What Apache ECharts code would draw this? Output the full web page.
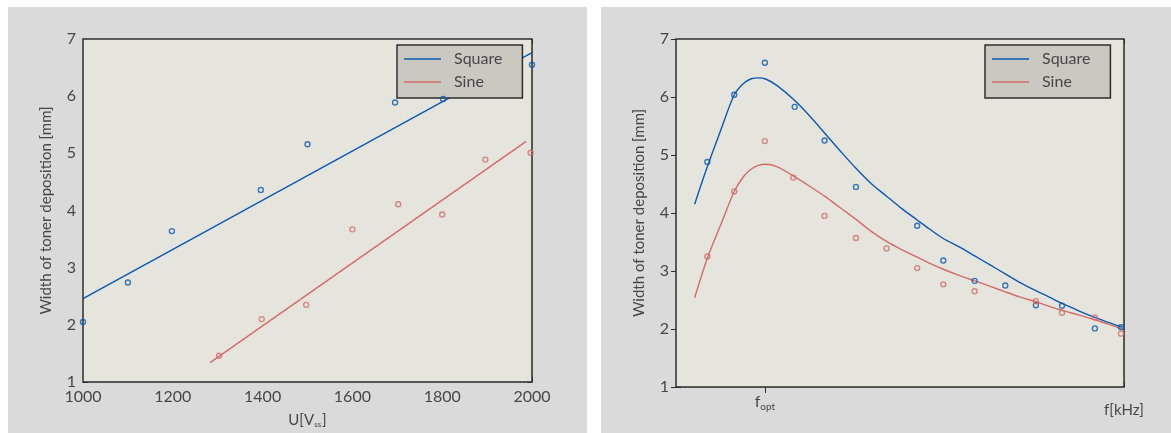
<!DOCTYPE html>
<html>
<head>
<meta charset="utf-8">
<style>
  html, body { margin: 0; padding: 0; background: #ffffff; }
  #c { width: 1171px; height: 433px; }
</style>
<script src="https://cdn.jsdelivr.net/npm/echarts@6/dist/echarts.min.js"></script>
</head>
<body>
<div id="c"></div>
<script>
// ---- Voltage sweep (left panel) ----
const uTicks = [1000, 1200, 1400, 1600, 1800, 2000];
const uSquareX = [1000, 1100, 1198, 1396, 1500, 1695, 1802, 2000];
const uSquareY = [2.05, 2.74, 3.64, 4.36, 5.16, 5.89, 5.95, 6.55];
const uSineX = [1303, 1398, 1497, 1600, 1702, 1800, 1896, 1997];
const uSineY = [1.46, 2.10, 2.35, 3.67, 4.11, 3.93, 4.89, 5.01];
// fitted straight lines
const uSquareFitX = [1000, 2000];
const uSquareFitY = [2.46, 6.76];
const uSineFitX = [1283, 1987];
const uSineFitY = [1.34, 5.21];

// ---- Frequency sweep (right panel), frequency in grid units ----
const fOpt = 1.19;
const fSquareX = [0.42, 0.78, 1.19, 1.59, 1.99, 2.41, 3.23, 3.58, 4.00, 4.41, 4.82, 5.17, 5.61, 5.96];
const fSquareY = [4.88, 6.04, 6.59, 5.83, 5.25, 4.45, 3.78, 3.18, 2.83, 2.75, 2.41, 2.40, 2.01, 2.03];
const fSineX = [0.42, 0.78, 1.19, 1.57, 1.99, 2.41, 2.82, 3.23, 3.58, 4.00, 4.82, 5.17, 5.61, 5.96];
const fSineY = [3.25, 4.37, 5.24, 4.61, 3.95, 3.57, 3.39, 3.05, 2.77, 2.65, 2.48, 2.28, 2.20, 1.92];
// fitted curves
const fSquareFitX = [0.25, 0.42, 0.60, 0.78, 0.90, 1.00, 1.10, 1.20, 1.35, 1.59, 1.80, 1.99, 2.20, 2.41, 2.62, 2.82, 3.02, 3.23, 3.40, 3.58, 3.80, 4.00, 4.20, 4.41, 4.61, 4.82, 5.00, 5.17, 5.40, 5.61, 5.80, 5.98];
const fSquareFitY = [4.15, 4.80, 5.43, 6.04, 6.23, 6.31, 6.33, 6.31, 6.20, 5.94, 5.66, 5.38, 5.07, 4.77, 4.50, 4.29, 4.08, 3.88, 3.72, 3.56, 3.41, 3.26, 3.11, 2.95, 2.80, 2.66, 2.55, 2.44, 2.31, 2.20, 2.11, 2.03];
const fSineFitX = [0.25, 0.42, 0.60, 0.78, 0.90, 1.00, 1.10, 1.20, 1.35, 1.57, 1.78, 1.99, 2.20, 2.41, 2.62, 2.82, 3.02, 3.23, 3.40, 3.58, 3.80, 4.00, 4.20, 4.41, 4.61, 4.82, 5.00, 5.17, 5.40, 5.61, 5.80, 5.98];
const fSineFitY = [2.54, 3.22, 3.80, 4.37, 4.62, 4.75, 4.82, 4.84, 4.80, 4.64, 4.47, 4.29, 4.09, 3.89, 3.68, 3.51, 3.37, 3.24, 3.13, 3.03, 2.92, 2.83, 2.74, 2.64, 2.55, 2.47, 2.39, 2.32, 2.24, 2.16, 2.08, 2.00];

const yTicksMin = 1, yTicksMax = 7;
const seriesNames = ['Square', 'Sine'];

const BLUE = '#0b59b0';
const RED = '#d46b69';
const FRAME = '#2e2e2e';
const TXT = '#474747';
const FONT = 'Lato, "DejaVu Sans", sans-serif';

const zip = (xs, ys) => xs.map((x, i) => [x, ys[i]]);

const gridLine = { show: true, lineStyle: { color: '#a3a39c', width: 1, type: [2, 2] } };
const tickIn = { show: true, inside: true, length: 5, lineStyle: { color: FRAME, width: 1 } };

function yAxesFor(gi) {
  return [
    {
      type: 'value', gridIndex: gi, position: 'left', min: yTicksMin, max: yTicksMax, interval: 1,
      axisLine: { show: false }, axisTick: tickIn, splitLine: gridLine,
      axisLabel: { color: TXT, fontSize: 16, fontFamily: FONT, margin: 7 },
      name: 'Width of toner deposition [mm]', nameLocation: 'middle', nameGap: 29,
      nameTextStyle: { color: TXT, fontSize: 15, fontFamily: FONT }
    },
    {
      type: 'value', gridIndex: gi, position: 'right', min: yTicksMin, max: yTicksMax, interval: 1,
      axisLine: { show: false }, axisTick: tickIn, splitLine: { show: false }, axisLabel: { show: false }
    }
  ];
}

function lineSeries(name, xi, yi, pts, color) {
  return {
    type: 'line', name, xAxisIndex: xi, yAxisIndex: yi, data: pts,
    symbol: 'none', showSymbol: false, smooth: 0.3, clip: true,
    lineStyle: { color, width: 1.4 }, itemStyle: { color }, z: 3
  };
}
function pointSeries(name, xi, yi, pts, color) {
  return {
    type: 'scatter', name, xAxisIndex: xi, yAxisIndex: yi, data: pts,
    symbol: 'circle', symbolSize: 5, clip: false,
    itemStyle: { color: 'rgba(0,0,0,0)', borderColor: color, borderWidth: 1.4 }, z: 4
  };
}
// legend entries drawn as a plain line stroke
const lineIcon = 'path://M0,0H37V1.4H0Z';
function legendAt(left) {
  return {
    data: seriesNames.map(n => ({ name: n, icon: lineIcon })),
    orient: 'vertical', left, top: 45,
    backgroundColor: '#c9c9c1', borderColor: FRAME, borderWidth: 1.5, borderRadius: 0,
    padding: [6, 20, 8, 7], itemWidth: 37, itemHeight: 14, itemGap: 7,
    textStyle: { color: TXT, fontSize: 16, fontFamily: FONT, padding: [0, 0, 0, 8] },
    selectedMode: false
  };
}

const option = {
  backgroundColor: '#ffffff',
  animation: false,
  graphic: [
    { type: 'rect', z: -10, shape: { x: 8, y: 7, width: 579, height: 426 }, style: { fill: '#dadada' } },
    { type: 'rect', z: -10, shape: { x: 601, y: 7, width: 570, height: 426 }, style: { fill: '#dadada' } }
  ],
  grid: [
    { left: 83, top: 39, width: 449, height: 348, show: true, backgroundColor: '#e5e5dd', borderColor: FRAME, borderWidth: 1.5, z: 1 },
    { left: 676, top: 39, width: 448, height: 348, show: true, backgroundColor: '#e5e5dd', borderColor: FRAME, borderWidth: 1.5, z: 1 }
  ],
  legend: [legendAt(397), legendAt(985)],
  xAxis: [
    // left panel, bottom
    {
      type: 'value', gridIndex: 0, position: 'bottom', min: uTicks[0], max: uTicks[uTicks.length - 1], interval: 200,
      axisLine: { show: false }, axisTick: tickIn, splitLine: gridLine,
      axisLabel: { color: TXT, fontSize: 16, fontFamily: FONT, margin: 7, formatter: v => String(v) },
      name: '{n|U[V}{s|ss}{n|]}', nameLocation: 'middle', nameGap: 28,
      nameTextStyle: {
        rich: {
          n: { color: TXT, fontSize: 15, fontFamily: FONT, verticalAlign: 'bottom', lineHeight: 18 },
          s: { color: TXT, fontSize: 8, fontFamily: FONT, verticalAlign: 'bottom', lineHeight: 18, padding: [0, 1, 0, 0] }
        }
      }
    },
    // left panel, top
    {
      type: 'value', gridIndex: 0, position: 'top', min: uTicks[0], max: uTicks[uTicks.length - 1], interval: 200,
      axisLine: { show: false }, axisTick: tickIn, splitLine: { show: false }, axisLabel: { show: false }
    },
    // right panel, bottom (grid divisions)
    {
      type: 'value', gridIndex: 1, position: 'bottom', min: 0, max: 6, interval: 1,
      axisLine: { show: false }, axisTick: tickIn, splitLine: gridLine, axisLabel: { show: false }
    },
    // right panel, top
    {
      type: 'value', gridIndex: 1, position: 'top', min: 0, max: 6, interval: 1,
      axisLine: { show: false }, axisTick: tickIn, splitLine: { show: false }, axisLabel: { show: false }
    },
    // right panel, f_opt marker and unit label
    {
      type: 'value', gridIndex: 1, position: 'bottom', min: 0, max: 6,
      axisLine: { show: false }, splitLine: { show: false },
      axisTick: { show: true, inside: false, length: 6, customValues: [fOpt], lineStyle: { color: FRAME, width: 1 } },
      axisLabel: {
        show: true, customValues: [fOpt, 6], margin: 7,
        formatter: v => (Math.abs(v - fOpt) < 1e-6 ? '{f|f}{s|opt}' : '{k|f[kHz]}'),
        rich: {
          f: { color: TXT, fontSize: 16, fontFamily: FONT, align: 'left', verticalAlign: 'top', lineHeight: 18 },
          s: { color: TXT, fontSize: 10, fontFamily: FONT, verticalAlign: 'bottom', lineHeight: 12, padding: [10, 0, 0, 0] },
          k: { color: TXT, fontSize: 15, fontFamily: FONT, padding: [9, 0, 0, 0] }
        }
      }
    },
    {
      type: 'value', gridIndex: 1, position: 'bottom', min: 0, max: 6,
      axisLine: { show: false }, splitLine: { show: false }, axisLabel: { show: false },
      axisTick: { show: true, inside: true, length: 5, customValues: [fOpt], lineStyle: { color: FRAME, width: 1 } }
    }
  ],
  yAxis: [...yAxesFor(0), ...yAxesFor(1)],
  series: [
    lineSeries('Square', 0, 0, zip(uSquareFitX, uSquareFitY), BLUE),
    lineSeries('Sine', 0, 0, zip(uSineFitX, uSineFitY), RED),
    pointSeries('Square points', 0, 0, zip(uSquareX, uSquareY), BLUE),
    pointSeries('Sine points', 0, 0, zip(uSineX, uSineY), RED),
    lineSeries('Square', 2, 2, zip(fSquareFitX, fSquareFitY), BLUE),
    lineSeries('Sine', 2, 2, zip(fSineFitX, fSineFitY), RED),
    pointSeries('Square points', 2, 2, zip(fSquareX, fSquareY), BLUE),
    pointSeries('Sine points', 2, 2, zip(fSineX, fSineY), RED)
  ]
};

const chart = echarts.init(document.getElementById('c'));
chart.setOption(option);
</script>
</body>
</html>
